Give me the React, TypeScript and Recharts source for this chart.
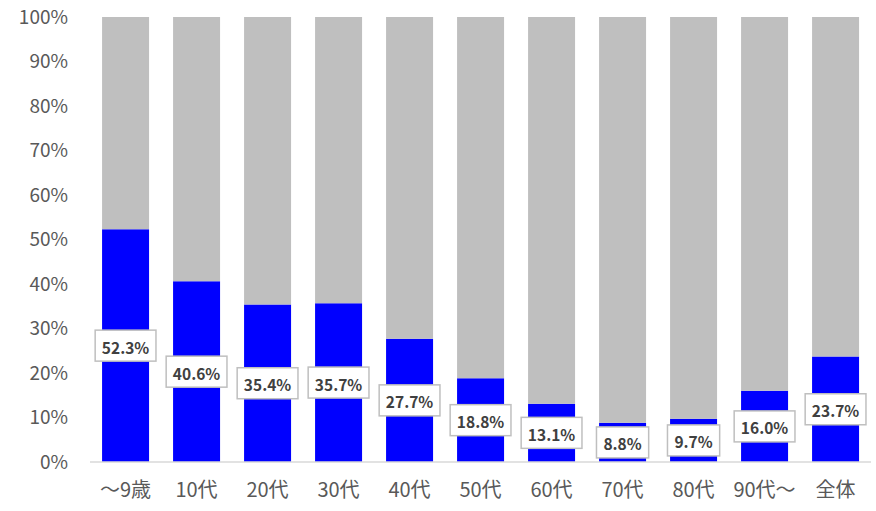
import { BarChart, Bar, XAxis, YAxis, LabelList } from "recharts";

const categories = ["～9歳", "10代", "20代", "30代", "40代", "50代", "60代", "70代", "80代", "90代～", "全体"];
const shares = [52.3, 40.6, 35.4, 35.7, 27.7, 18.8, 13.1, 8.8, 9.7, 16.0, 23.7];
const yTicks = [0, 10, 20, 30, 40, 50, 60, 70, 80, 90, 100];

const data = categories.map((name, i) => ({
  name,
  share: shares[i],
  rest: 100 - shares[i],
}));

const FONT = "'Noto Sans CJK JP', 'Noto Sans', sans-serif";

function ValueBox(props: any) {
  const { x, y, width, height, value } = props;
  const text = `${Number(value).toFixed(1)}%`;
  const digits = text.replace(/[^0-9]/g, "").length;
  // rough text width for 15px bold + padding
  const boxW = digits * 8.6 + 35;
  const boxH = 31;
  const cx = x + width / 2;
  const cy = y + height / 2;
  return (
    <g>
      <rect
        x={cx - boxW / 2}
        y={cy - boxH / 2}
        width={boxW}
        height={boxH}
        fill="#fff"
        stroke="#BFBFBF"
        strokeWidth={1.5}
      />
      <text
        x={cx}
        y={cy + 1}
        textAnchor="middle"
        dominantBaseline="central"
        fontFamily={FONT}
        fontSize={15.5}
        fontWeight="bold"
        fill="#404040"
      >
        {text}
      </text>
    </g>
  );
}

export default function App() {
  return (
    <div style={{ position: "fixed", top: 0, left: 0, background: "#fff" }}>
      <BarChart
        width={876}
        height={511}
        data={data}
        margin={{ top: 17, right: 5, bottom: 0, left: 0 }}
        barCategoryGap="17%"
      >
        <XAxis
          dataKey="name"
          height={49}
          tickLine={false}
          tickSize={0}
          tickMargin={21}
          axisLine={{ stroke: "#D9D9D9", strokeWidth: 1.5 }}
          tick={{ fill: "#595959", fontSize: 20, fontFamily: FONT }}
          interval={0}
        />
        <YAxis
          width={90}
          domain={[0, 100]}
          ticks={yTicks}
          tickFormatter={(v) => `${v}%`}
          axisLine={false}
          tickLine={false}
          tickSize={0}
          tickMargin={22}
          tick={{ fill: "#595959", fontSize: 19, fontFamily: FONT }}
        />
        <Bar dataKey="share" stackId="a" fill="#0000FF" isAnimationActive={false}>
          <LabelList dataKey="share" content={ValueBox} />
        </Bar>
        <Bar dataKey="rest" stackId="a" fill="#BFBFBF" isAnimationActive={false} />
      </BarChart>
    </div>
  );
}
